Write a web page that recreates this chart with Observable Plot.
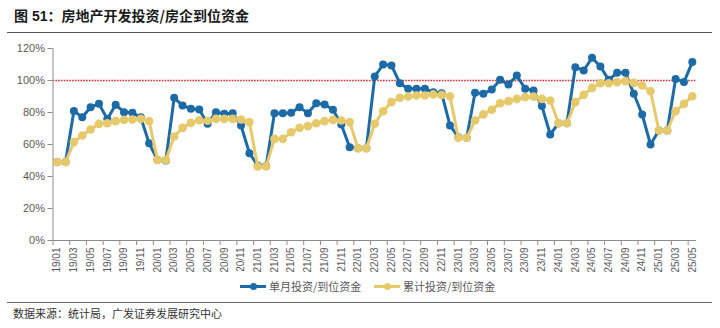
<!DOCTYPE html>
<html><head><meta charset="utf-8">
<script src="https://cdn.jsdelivr.net/npm/d3@7"></script>
<script src="https://cdn.jsdelivr.net/npm/@observablehq/plot@0.6"></script>
<style>
body{margin:0;width:720px;height:328px;position:relative;background:#fff;overflow:hidden;font-family:"Liberation Sans",Arial,sans-serif;}
#title{position:absolute;left:14px;top:5px;font-size:14px;font-weight:bold;color:#1a1a1a;font-family:"Liberation Sans","Noto Sans CJK SC",sans-serif;white-space:nowrap;}
#title .cn{font-family:"Noto Sans CJK SC",sans-serif;font-weight:bold;}
#tline{position:absolute;left:7px;right:8px;top:32px;height:0;border-top:1.5px solid #555;}
#chart{position:absolute;left:0;top:34px;}
#legend{position:absolute;top:277px;left:0;width:720px;height:18px;font-family:"Noto Sans CJK SC",sans-serif;font-size:11px;color:#595959;}
.lg{position:absolute;top:0;display:flex;align-items:center;height:18px;white-space:nowrap;}
.sw{position:relative;width:26px;height:3px;margin-right:3px;}
.sw i{position:absolute;left:10px;top:-2px;width:7px;height:7px;border-radius:50%;}
#fline{position:absolute;left:7px;right:8px;top:302px;height:0;border-top:1.5px solid #666;}
#foot{position:absolute;left:13px;top:305px;font-size:11px;color:#333;font-family:"Noto Sans CJK SC",sans-serif;}
</style></head>
<body>
<div id="title">图 51<span class="cn">：房地产开发投资/房企到位资金</span></div>
<div id="tline"></div>
<div id="chart"></div>
<div id="legend"></div>
<div id="fline"></div>
<div id="foot">数据来源：统计局，广发证券发展研究中心</div>
<script>
const labels = ["19/01","19/02","19/03","19/04","19/05","19/06","19/07","19/08","19/09","19/10","19/11","19/12",
"20/01","20/02","20/03","20/04","20/05","20/06","20/07","20/08","20/09","20/10","20/11","20/12",
"21/01","21/02","21/03","21/04","21/05","21/06","21/07","21/08","21/09","21/10","21/11","21/12",
"22/01","22/02","22/03","22/04","22/05","22/06","22/07","22/08","22/09","22/10","22/11","22/12",
"23/01","23/02","23/03","23/04","23/05","23/06","23/07","23/08","23/09","23/10","23/11","23/12",
"24/01","24/02","24/03","24/04","24/05","24/06","24/07","24/08","24/09","24/10","24/11","24/12",
"25/01","25/02","25/03","25/04","25/05"];
const monthly = [49,49,81,77,83.3,85.4,76,84.8,80.2,79.8,77,60.8,
50.4,50,89.2,84.4,82.3,81.9,72.9,80.2,79.2,79.6,71.9,54.6,
46.9,46.5,79.6,79.6,79.8,83.3,79.6,85.8,85,81.7,72.5,58.3,
57.7,57.7,102.5,110,109.4,98.3,94.8,94.8,94.8,92.7,92.1,71.9,
64.6,64.2,92.3,91.7,94.4,100.4,97.5,103.1,94.8,93.75,84,66.25,
73.3,73.3,108.3,106.25,114.2,108.75,100.4,104.8,104.8,91.7,78.75,60,
68.75,68.75,101,99,111.5];
const cumulative = [49,49,61.5,65.6,69.4,72.9,73.3,74.6,75.4,75.6,76,74.6,
50.4,50.4,65,70.4,73.5,75.2,74.8,76,76,76,75.6,74,
46.3,46.3,63.5,63.5,67.7,70.4,71.5,73.3,74.6,75.4,75,74,
57.7,57.7,73,80.8,86.5,89.2,90,90.6,90.6,91.3,91,90.2,
64.2,64.2,75,78.8,81.7,85.8,87.1,88.5,89.6,89.9,88.5,87.5,
73.3,73.3,86.5,91,95.4,98.3,98.3,99,99.6,98.5,96.9,93.3,
68.75,68.75,80.8,85.4,90.2];
const yTicks = [0,20,40,60,80,100,120];
const seriesNames = ["单月投资/到位资金","累计投资/到位资金"];
const colors = ["#1c6aa6","#e6c96b"];

const rows = labels.map((l,i)=>({i, m: monthly[i], c: cumulative[i]}));
const even = labels.map((l,i)=>i).filter(i=>i%2===0);
const gray = "#8c8c8c";

const plot = Plot.plot({
  width: 720, height: 266,
  marginLeft: 52.5, marginRight: 24, marginTop: 14, marginBottom: 60,
  style: {fontFamily: '"Liberation Sans", Arial, sans-serif', background: "transparent"},
  x: {type: "linear", domain: [-0.5, labels.length - 0.5]},
  y: {domain: [0, 120]},
  marks: [
    Plot.ruleY([100], {stroke: "#e3262a", strokeWidth: 1.6, strokeDasharray: "1.6,1.2"}),
    Plot.ruleX([-0.5], {stroke: gray, strokeWidth: 1}),
    Plot.ruleY([0], {stroke: gray, strokeWidth: 1}),
    Plot.axisY(yTicks, {tickSize: 5, tickPadding: 3, stroke: gray, fill: "#595959", fontSize: 11, tickFormat: d => d + "%", label: null}),
    Plot.axisX(even.map(i => i - 0.5), {tickSize: 5, stroke: gray, tickFormat: () => "", label: null}),
    Plot.axisX(even, {tickSize: 0, tickPadding: 7, tickRotate: -90, fill: "#595959", fontSize: 10, tickFormat: i => labels[i], label: null}),
    Plot.lineY(rows, {x: "i", y: "m", stroke: colors[0], strokeWidth: 3}),
    Plot.dot(rows, {x: "i", y: "m", r: 4, fill: colors[0], stroke: "none"}),
    Plot.lineY(rows, {x: "i", y: "c", stroke: colors[1], strokeWidth: 3}),
    Plot.dot(rows, {x: "i", y: "c", r: 4.3, fill: colors[1], stroke: "none"})
  ]
});
document.getElementById("chart").appendChild(plot);

const lg = document.getElementById("legend");
const lefts = [240, 374];
seriesNames.forEach((n, k) => {
  const d = document.createElement("div");
  d.className = "lg";
  d.style.left = lefts[k] + "px";
  d.innerHTML = `<span class="sw" style="background:${colors[k]}"><i style="background:${colors[k]}"></i></span><span>${n}</span>`;
  lg.appendChild(d);
});
</script>
</body></html>
